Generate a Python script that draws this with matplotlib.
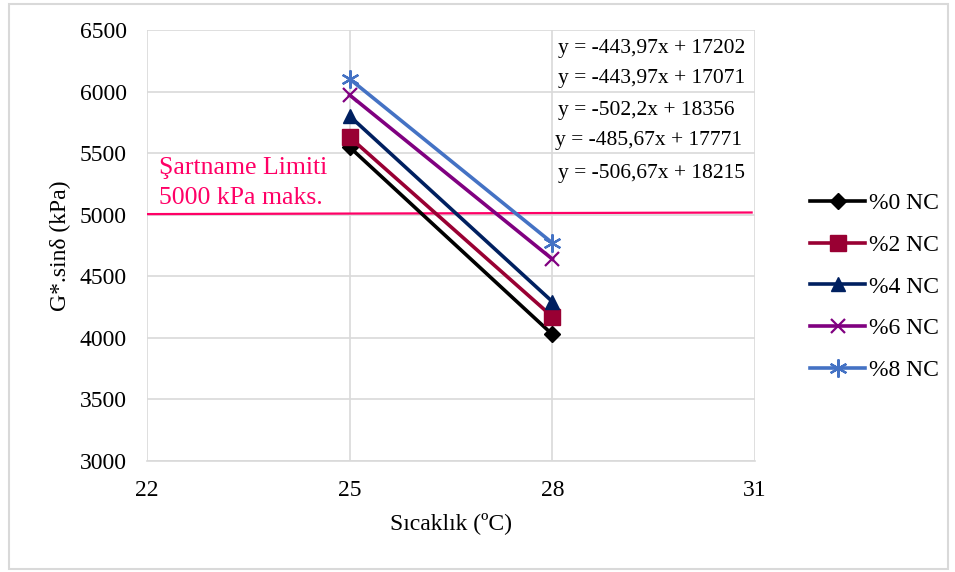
import matplotlib
matplotlib.use("Agg")
import matplotlib.pyplot as plt
from matplotlib.patches import Rectangle

plt.rcParams['font.family'] = ['Liberation Serif', 'DejaVu Serif']

temps = [25, 28]
series_names = ["%0 NC", "%2 NC", "%4 NC", "%6 NC", "%8 NC"]
g_sin_delta = {
    "%0 NC": [5548.25, 4028.24],
    "%2 NC": [5629.25, 4172.24],
    "%4 NC": [5801.0, 4294.4],
    "%6 NC": [5971.75, 4639.84],
    "%8 NC": [6102.75, 4770.84],
}
equations = [
    "y = -443,97x + 17202",
    "y = -443,97x + 17071",
    "y = -502,2x + 18356",
    "y = -485,67x + 17771",
    "y = -506,67x + 18215",
]
limit_x = [22, 30.95]
limit_y = [5005, 5018]
x_ticks = [22, 25, 28, 31]
y_ticks = [3000, 3500, 4000, 4500, 5000, 5500, 6000, 6500]

colors = ["#000000", "#990033", "#002060", "#800080", "#4472C4"]
markers = ["D", "s", "^", "x", (6, 2, 0)]
msizes = [8, 11, 10, 10, 13]

W, H = 955, 572
fig = plt.figure(figsize=(W / 100, H / 100), dpi=100)
ax = fig.add_axes([147 / W, 1 - 461 / H, (755 - 147) / W, (461 - 30) / H])

for name, c, m, ms in zip(series_names, colors, markers, msizes):
    ax.plot(temps, g_sin_delta[name], color=c, lw=2.6, marker=m, ms=ms,
            mew=1.6 if m in ("x",) or isinstance(m, tuple) else 1.0,
            mec=c, mfc=c, label=name, zorder=3)

ax.plot(limit_x, limit_y, color="#FF0066", lw=1.6, zorder=2)

ax.set_xlim(22, 31)
ax.set_ylim(3000, 6500)
ax.set_xticks(x_ticks)
ax.set_yticks(y_ticks)
ax.grid(True, color="#D9D9D9", lw=1.2)
ax.set_axisbelow(True)
for s in ax.spines.values():
    s.set_visible(False)
ax.spines['bottom'].set_visible(True)
ax.spines['bottom'].set_color("#D9D9D9")
ax.spines['bottom'].set_linewidth(1.2)
ax.tick_params(length=0, labelsize=17)
ax.tick_params(axis='y', pad=14.5)
ax.tick_params(axis='x', pad=14)

ax.set_xlabel("Sıcaklık (ºC)", fontsize=17, labelpad=8)
ax.set_ylabel("G*.sinδ (kPa)", fontsize=17, labelpad=6)

ax.text(159 / W, 1 - 168 / H, "Şartname Limiti", transform=fig.transFigure,
        color="#FF0066", fontsize=18.5, va="center", ha="left")
ax.text(159 / W, 1 - 198 / H, "5000 kPa maks.", transform=fig.transFigure,
        color="#FF0066", fontsize=18.5, va="center", ha="left")

eq_pos = [(558, 48), (558, 79), (558, 110), (555, 141), (558, 173)]
for txt, (px, py) in zip(equations, eq_pos):
    fig.text(px / W, 1 - py / H, txt, fontsize=15.5, va="center", ha="left")

leg = fig.legend(loc="upper left", bbox_to_anchor=(801 / W, 1 - 183 / H),
                 frameon=False, fontsize=17, handlelength=2.3,
                 labelspacing=0.86, handletextpad=0.2, borderaxespad=0)

fig.patches.append(Rectangle((9 / W, 1 - 569 / H), (948 - 9) / W, (569 - 4) / H,
                             transform=fig.transFigure, fill=False,
                             edgecolor="#D9D9D9", lw=1.5))

fig.savefig("out.png", dpi=100, facecolor="white")
